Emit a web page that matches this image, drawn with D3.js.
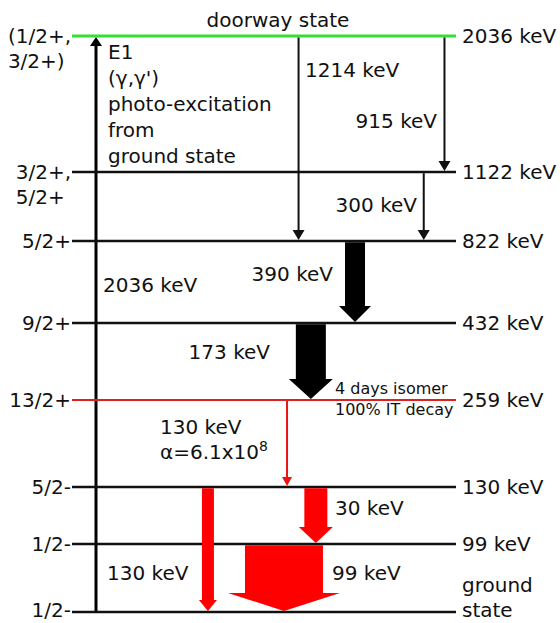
<!DOCTYPE html>
<html>
<head>
<meta charset="utf-8">
<script src="https://cdn.jsdelivr.net/npm/d3@7"></script>
<style>
  body { margin: 0; background: #fff; }
  text { font-family: "DejaVu Sans", sans-serif; font-size: 20px; fill: #111; }
  .note { font-size: 16px; }
</style>
</head>
<body>
<div id="graphic"></div>
<script>
// Levels, top to bottom
const levelEnergy = [2036, 1122, 822, 432, 259, 130, 99, 0];
const levelSpin = [["(1/2+,", "3/2+)"], ["3/2+,", "5/2+"], ["5/2+"], ["9/2+"], ["13/2+"], ["5/2-"], ["1/2-"], ["1/2-"]];
const levelName = [["2036 keV"], ["1122 keV"], ["822 keV"], ["432 keV"], ["259 keV"], ["130 keV"], ["99 keV"], ["ground", "state"]];

// Gamma transitions
const gammaFrom = [2036, 2036, 1122, 822, 432, 259, 130, 130, 99];
const gammaTo = [822, 1122, 822, 432, 259, 130, 0, 99, 0];
const gammaLabel = ["1214 keV", "915 keV", "300 keV", "390 keV", "173 keV", "130 keV", "130 keV", "30 keV", "99 keV"];

(function(d3){

    let width = 560, height = 623;

    // Schematic (not to scale) vertical layout of the levels
    let levelY = [36, 172, 241, 323, 400, 487, 544, 612];
    let y = d3.scaleLinear().domain(levelEnergy).range(levelY);

    // Horizontal layout: fraction across the level lines
    let lineLeft = 72, lineRight = 456, axisX = 96;
    let x = d3.scaleLinear().domain([0, 1]).range([lineLeft, lineRight]);

    let levelColor = e => e === 2036 ? '#33e033' : (e === 259 ? '#e02020' : '#111');
    let levelStroke = e => e === 2036 ? 3 : (e === 259 ? 2 : 2.5);
    // bottom labels sit a touch higher so they stay inside the frame
    let labelDy = e => e === 0 ? '0.25em' : '0.35em';

    // Arrow layout per transition: x position, shaft width, head width, head length, colour
    let arrowPos   = [0.590, 0.970, 0.916, 0.737, 0.622, 0.560, 0.354, 0.635, 0.552];
    let arrowShaft = [2, 2, 2, 20, 30, 2, 12, 23, 78];
    let arrowHead  = [12, 12, 12, 32, 44, 10, 18, 34, 112];
    let arrowLen   = [10, 10, 10, 16, 20, 9, 11, 16, 18];
    let arrowColor = ['#111', '#111', '#111', '#000', '#000', '#ee1111', '#ff0000', '#ff0000', '#ff0000'];

    let svg = d3.select('#graphic')
                .append('svg')
                .attr('width', width)
                .attr('height', height);

    // Vertical excitation axis
    svg.append('line')
       .attr('x1', axisX).attr('x2', axisX)
       .attr('y1', y(0)).attr('y2', y(2036) + 8)
       .attr('stroke', '#000').attr('stroke-width', 3);
    svg.append('path')
       .attr('d', `M${axisX - 6},${y(2036) + 10}L${axisX},${y(2036) + 1}L${axisX + 6},${y(2036) + 10}Z`)
       .attr('fill', '#000');

    // Level lines
    levelEnergy.forEach((e, i) => {
        svg.append('line')
           .attr('x1', lineLeft).attr('x2', lineRight)
           .attr('y1', y(e)).attr('y2', y(e))
           .attr('stroke', levelColor(e))
           .attr('stroke-width', levelStroke(e));

        // Spin / parity on the left
        let spin = levelSpin[i];
        let first = svg.append('text')
            .attr('x', lineLeft - 1)
            .attr('y', y(e))
            .attr('dy', labelDy(e))
            .attr('text-anchor', 'end')
            .text(spin[0]);
        if(spin.length > 1) {
            let left = lineLeft - 1 - first.node().getComputedTextLength();
            svg.append('text')
               .attr('x', left)
               .attr('y', y(e) + 25)
               .attr('dy', '0.35em')
               .text(spin[1]);
        }

        // Energy on the right (multi-line labels grow upward)
        let name = levelName[i];
        name.forEach((t, j) => {
            svg.append('text')
               .attr('x', lineRight + 6)
               .attr('y', y(e) - (name.length - 1 - j) * 25)
               .attr('dy', labelDy(e))
               .text(t);
        });
    });

    // Gamma arrows
    gammaFrom.forEach((f, i) => {
        let cx = x(arrowPos[i]);
        let y0 = y(f) + levelStroke(f) / 2;
        let y1 = y(gammaTo[i]) - 1;
        let s = arrowShaft[i] / 2, h = arrowHead[i] / 2, yh = y1 - arrowLen[i];
        let p = d3.path();
        p.moveTo(cx - s, y0);
        p.lineTo(cx + s, y0);
        p.lineTo(cx + s, yh);
        p.lineTo(cx + h, yh);
        p.lineTo(cx, y1);
        p.lineTo(cx - h, yh);
        p.lineTo(cx - s, yh);
        p.closePath();
        svg.append('path')
           .attr('d', p.toString())
           .attr('fill', arrowColor[i]);
    });

    // Gamma labels
    let labelPos = [
        [305, 70, 'start'], [437, 121, 'end'], [417, 205, 'end'],
        [333, 274, 'end'], [270, 352, 'end'], [160, 427, 'start'],
        [107, 573, 'start'], [335, 508, 'start'], [332, 573, 'start']
    ];
    gammaLabel.forEach((t, i) => {
        let lp = labelPos[i];
        svg.append('text')
           .attr('x', lp[0])
           .attr('y', lp[1])
           .attr('dy', '0.35em')
           .attr('text-anchor', lp[2])
           .text(t);
    });

    // Conversion coefficient of the isomeric transition
    let alpha = svg.append('text')
        .attr('x', 160).attr('y', 452).attr('dy', '0.35em');
    alpha.append('tspan').text('α=6.1x10');
    alpha.append('tspan').attr('dy', '-0.6em').style('font-size', '14px').text('8');

    // Titles and notes
    svg.append('text')
       .attr('x', 278).attr('y', 20).attr('dy', '0.35em')
       .attr('text-anchor', 'middle')
       .text('doorway state');

    ['E1', '(γ,γ\')', 'photo-excitation', 'from', 'ground state'].forEach((t, i) => {
        svg.append('text')
           .attr('x', 108).attr('y', 52 + i * 26).attr('dy', '0.35em')
           .text(t);
    });

    svg.append('text')
       .attr('x', 103).attr('y', 285).attr('dy', '0.35em')
       .text('2036 keV');

    svg.append('text').attr('class', 'note')
       .attr('x', 335).attr('y', 388).attr('dy', '0.35em')
       .text('4 days isomer');
    svg.append('text').attr('class', 'note')
       .attr('x', 335).attr('y', 409).attr('dy', '0.35em')
       .text('100% IT decay');

})(window.d3);
</script>
</body>
</html>
